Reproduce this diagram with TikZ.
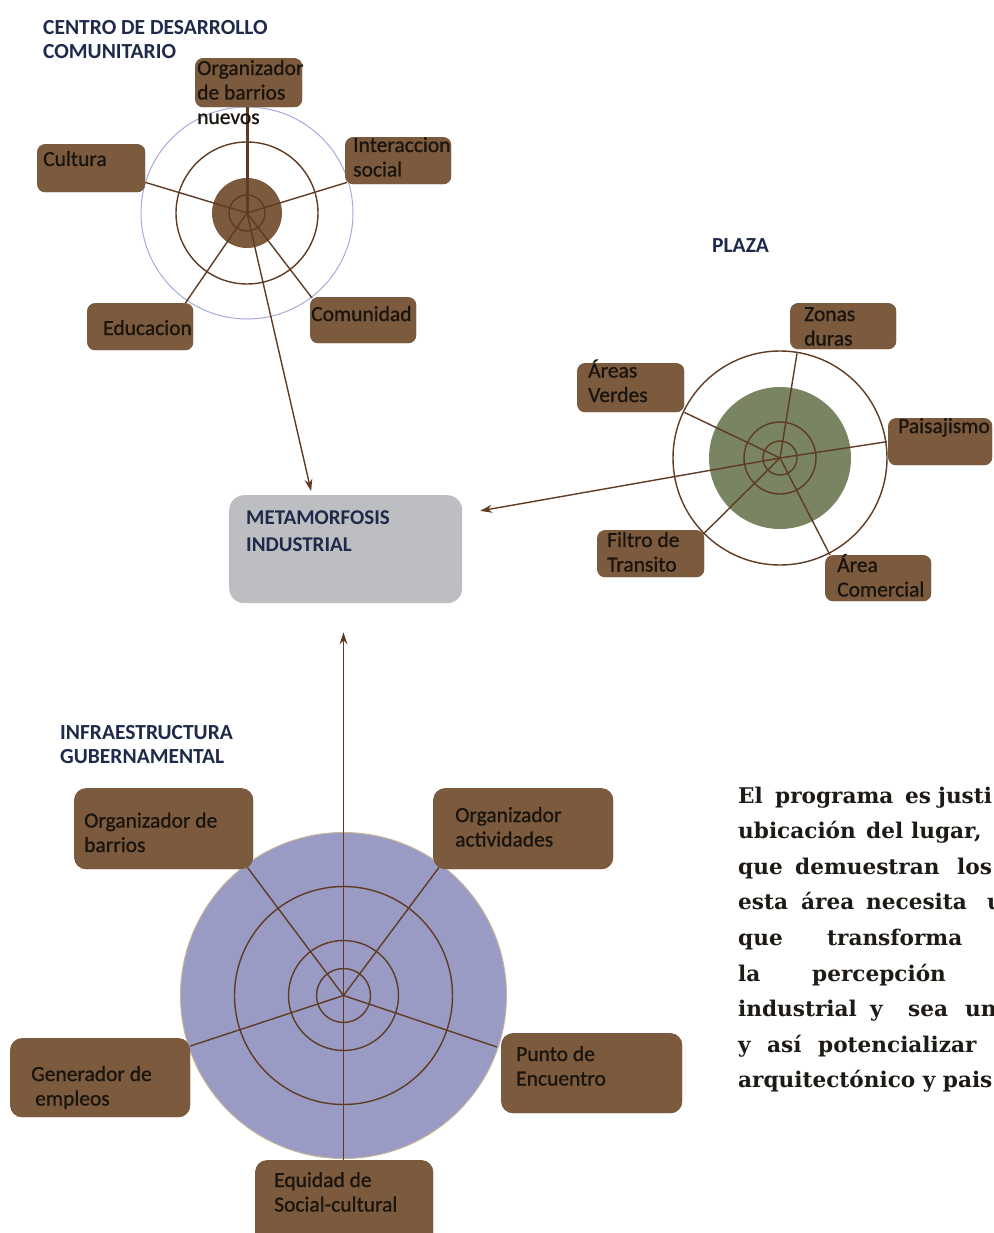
\documentclass[tikz,border=0pt]{standalone}
\usepackage{fontspec}
\setmainfont{Carlito}
\newfontfamily\lblfont{Carlito}[FakeBold=0.9]
\newfontfamily\parafont{DejaVu Serif}
\usetikzlibrary{arrows.meta,calc}
\definecolor{boxbrown}{HTML}{7B5A3D}
\definecolor{linebrown}{HTML}{5E3B22}
\definecolor{navy}{HTML}{1F2A4A}
\definecolor{metagray}{HTML}{BDBEC2}
\definecolor{plazagreen}{HTML}{788462}
\definecolor{periwinkle}{HTML}{9A9BC4}
\definecolor{ringblue}{HTML}{A9A9DC}
\definecolor{disctan}{HTML}{C8B49A}
\definecolor{labeltext}{HTML}{1A140E}
\definecolor{paratext}{HTML}{1E1A16}
\begin{document}
\begin{tikzpicture}[x=1pt,y=-1pt,
  box/.style={fill=boxbrown, rounded corners=8pt, inner sep=0pt, anchor=north west, minimum width=#1},
  bigbox/.style={fill=boxbrown, rounded corners=12pt, inner sep=0pt, anchor=north west, minimum width=#1},
  lbl/.style={inner sep=0pt, anchor=base west, align=left, font=\lblfont\fontsize{21.5}{24.5}\selectfont, text=labeltext},
  ttl/.style={inner sep=0pt, anchor=base west, align=left, font=\bfseries\fontsize{21.5}{24}\selectfont, text=navy},
  spoke/.style={draw=linebrown, line width=1.4pt},
  ring/.style={draw=linebrown, line width=1.4pt},
  arr/.style={draw=linebrown, line width=1.4pt, -{Stealth[length=12pt,width=8pt]}},
  para/.style={inner sep=0pt, anchor=base west, font=\parafont\bfseries\fontsize{21.6}{26}\selectfont, text=paratext}
]
\useasboundingbox (0,0) rectangle (993,1233);
\begin{scope}
\clip (0,0) rectangle (993,1233);

% ---------- centres ----------
\coordinate (c1) at (247,213);
\coordinate (c2) at (780,458);
\coordinate (c3) at (343.5,995.5);

% ---------- box frames (for anchors) ----------
\path
  (195,58)  node[box=107pt, minimum height=49pt] (org) {}
  (37,144)  node[box=108pt, minimum height=48pt] (cult) {}
  (345,137) node[box=106pt, minimum height=47pt] (inter) {}
  (87,303)  node[box=106pt, minimum height=47pt] (edu) {}
  (310,297) node[box=106pt, minimum height=46pt] (comu) {}
  (790,303) node[box=106pt, minimum height=46pt] (zon) {}
  (577,363) node[box=107pt, minimum height=49pt] (areas) {}
  (888,418) node[box=104pt, minimum height=47pt] (pais) {}
  (597,530) node[box=107pt, minimum height=47pt] (filt) {}
  (825,555) node[box=106pt, minimum height=46pt] (comer) {}
  (74,788)  node[bigbox=179pt, minimum height=81pt] (ob) {}
  (433,788) node[bigbox=180pt, minimum height=81pt] (oa) {}
  (10,1038) node[bigbox=180pt, minimum height=79pt] (gen) {}
  (501,1033) node[bigbox=181pt, minimum height=80pt] (pun) {}
  (255,1160) node[bigbox=178pt, minimum height=85pt] (equ) {}
  (229,495) node[anchor=north west, fill=metagray, rounded corners=15pt, minimum width=233pt, minimum height=108pt, inner sep=0pt] (meta) {};

% ---------- centro de desarrollo ----------
\draw[ringblue, line width=1pt] (c1) circle[radius=106];
\fill[boxbrown] (c1) circle[radius=35];
\draw[ring] (c1) circle[radius=71];
\draw[ring] (c1) circle[radius=18];
\draw[spoke] (c1) -- ($(cult.south east)+(0,-10)$);
\draw[spoke] (c1) -- ($(inter.south west)+(2,-2)$);
\draw[spoke] (c1) -- ($(edu.north east)+(-8,0)$);
\draw[spoke] (c1) -- ($(comu.north west)+(2,1)$);
\draw[draw=linebrown, line width=3pt] (c1) -- (c1 |- org.south);
\draw[arr, shorten >=4pt] (c1) -- ($(meta.north west)+(83,0)$);

% ---------- plaza ----------
\fill[plazagreen] (c2) circle[radius=71];
\draw[ring] (c2) circle[radius=107];
\draw[ring] (c2) circle[radius=36];
\draw[ring] (c2) circle[radius=17];
\draw[spoke] (c2) -- ($(zon.south west)+(7,4)$);
\draw[spoke] (c2) -- (areas.south east);
\draw[spoke] (c2) -- ($(pais.west)+(-1,0)$);
\draw[spoke] (c2) -- ($(filt.north east)+(-1,4)$);
\draw[spoke] (c2) -- ($(comer.north west)+(5,0)$);
\draw[arr, shorten >=18pt] (c2) -- ($(meta.north east)+(0,19)$);

% ---------- infraestructura ----------
\draw[fill=periwinkle, draw=disctan, line width=1pt] (c3) circle[radius=163];
\draw[ring] (c3) circle[radius=109];
\draw[ring] (c3) circle[radius=55];
\draw[ring] (c3) circle[radius=27];
\draw[spoke] (c3) -- ($(ob.south east)+(-6,-2)$);
\draw[spoke] (c3) -- ($(oa.south west)+(6,-2)$);
\draw[spoke] (c3) -- ($(gen.north east)+(0,8)$);
\draw[spoke] (c3) -- ($(pun.north west)+(-4,14)$);
\draw[spoke] (c3) -- (c3 |- equ.north);
\draw[arr, shorten >=29pt] (c3) -- (c3 |- meta.south);

% ---------- boxes on top of the spokes ----------
\path
  (195,58)  node[box=107pt, minimum height=49pt] (orgB) {}
  (37,144)  node[box=108pt, minimum height=48pt] (cultB) {}
  (345,137) node[box=106pt, minimum height=47pt] (interB) {}
  (87,303)  node[box=106pt, minimum height=47pt] (eduB) {}
  (310,297) node[box=106pt, minimum height=46pt] (comuB) {}
  (790,303) node[box=106pt, minimum height=46pt] (zonB) {}
  (577,363) node[box=107pt, minimum height=49pt] (areasB) {}
  (888,418) node[box=104pt, minimum height=47pt] (paisB) {}
  (597,530) node[box=107pt, minimum height=47pt] (filtB) {}
  (825,555) node[box=106pt, minimum height=46pt] (comerB) {}
  (74,788)  node[bigbox=179pt, minimum height=81pt] (obB) {}
  (433,788) node[bigbox=180pt, minimum height=81pt] (oaB) {}
  (10,1038) node[bigbox=180pt, minimum height=79pt] (genB) {}
  (501,1033) node[bigbox=181pt, minimum height=80pt] (punB) {}
  (255,1160) node[bigbox=178pt, minimum height=85pt] (equB) {};

% ---------- labels (anchored at the baseline of the last line) ----------
\node[lbl] (torg) at (197,124) {Organizador\\de barrios\\nuevos};
\node[lbl] (tcult) at (43,166) {Cultura};
\node[lbl] (tinter) at (353,176.5) {Interaccion\\social};
\node[lbl] (tedu) at (103,335) {Educacion};
\node[lbl] (tcomu) at (311,321) {Comunidad};
\node[lbl] (tzon) at (804,345.5) {Zonas\\duras};
\node[lbl] (tareas) at (588,402) {Áreas\\Verdes};
\node[lbl] (tpais) at (898,433) {Paisajismo};
\node[lbl] (tfilt) at (607,571.5) {Filtro de\\Transito};
\node[lbl] (tcomer) at (837,596.5) {Área\\Comercial};
\node[lbl] (tob) at (84,852) {Organizador de\\barrios};
\node[lbl] (toa) at (455,846.5) {Organizador\\actividades};
\node[lbl] (tgen) at (31,1105.5) {Generador de\\\hspace*{4pt}empleos};
\node[lbl] (tpun) at (516,1085.5) {Punto de\\Encuentro};
\node[lbl] (tequ) at (274,1211.5) {Equidad de\\Social-cultural};

% ---------- titles ----------
\node[ttl] (ttop) at (43,59) {CENTRO DE DESARROLLO\\COMUNITARIO};
\node[ttl] (tplaza) at (712,252) {PLAZA};
\node[ttl, font=\bfseries\fontsize{21}{27.5}\selectfont] (tmeta) at (246,551.5) {METAMORFOSIS\\INDUSTRIAL};
\node[ttl] (tinfra) at (60,763) {INFRAESTRUCTURA\\GUBERNAMENTAL};

% ---------- paragraph ----------
\node[para] (p1) at (738,803) {\makebox[37pt][l]{El}\makebox[130pt][l]{programa}\makebox[33pt][l]{es}justi};
\node[para] (p2) at (738,838.6) {\makebox[128pt][l]{ubicación}\makebox[45pt][l]{del}lugar,};
\node[para] (p3) at (738,874.2) {\makebox[57pt][l]{que}\makebox[162pt][l]{demuestran}los};
\node[para] (p4) at (738,909.8) {\makebox[63pt][l]{esta}\makebox[65pt][l]{área}\makebox[121pt][l]{necesita}u};
\node[para] (p5) at (738,945.4) {\makebox[89pt][l]{que}transforma};
\node[para] (p6) at (738,981) {\makebox[74pt][l]{la}percepción};
\node[para] (p7) at (738,1016.6) {\makebox[132pt][l]{industrial}\makebox[38pt][l]{y}\makebox[57pt][l]{sea}un};
\node[para] (p8) at (738,1052.2) {\makebox[29pt][l]{y}\makebox[51pt][l]{así}potencializar};
\node[para] (p9) at (738,1087.8) {arquitectónico y pais};
\end{scope}
\end{tikzpicture}
\end{document}
